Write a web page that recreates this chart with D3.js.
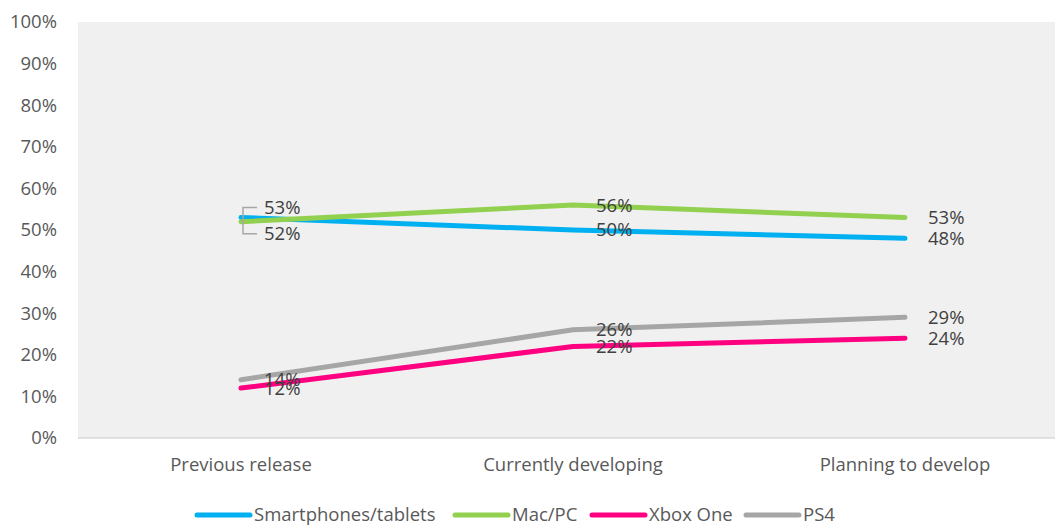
<!DOCTYPE html>
<html>
<head>
<meta charset="utf-8">
<script src="https://cdn.jsdelivr.net/npm/d3@7"></script>
<style>
  body { margin: 0; background: #fff; }
  svg text { font-family: "Open Sans", "Noto Sans", sans-serif; }
</style>
</head>
<body>
<svg id="chart" width="1055" height="525"></svg>
<script>
var categories = ['Previous release', 'Currently developing', 'Planning to develop'];
var seriesNames = ['Smartphones/tablets', 'Mac/PC', 'Xbox One', 'PS4'];
var smartphones = [53, 50, 48];
var macPc = [52, 56, 53];
var xboxOne = [12, 22, 24];
var ps4 = [14, 26, 29];
var yTicks = [0, 10, 20, 30, 40, 50, 60, 70, 80, 90, 100];
var colors = ['#00b0f0', '#92d050', '#ff0080', '#a6a6a6'];

var series = [smartphones, macPc, xboxOne, ps4].map(function(v, i) {
  return { name: seriesNames[i], values: v, color: colors[i] };
});

var svg = d3.select('#chart');
var plotLeft = 78, plotTop = 22, plotBottom = 438, plotRight = 1071;
var fontSize = '18.5px';

var x = d3.scaleBand().domain(categories).range([75, plotRight]);
var y = d3.scaleLinear().domain([0, 100]).range([plotBottom, plotTop]);

// plot background
svg.append('rect')
  .attr('x', plotLeft).attr('y', plotTop)
  .attr('width', plotRight - plotLeft).attr('height', plotBottom - plotTop)
  .attr('fill', '#f0f0f0');

// y axis labels
var yAxis = d3.axisLeft(y).tickValues(yTicks).tickSize(0).tickPadding(21)
  .tickFormat(function(d) { return d + '%'; });
svg.append('g').attr('transform', 'translate(' + plotLeft + ',0)').call(yAxis)
  .call(function(g) { g.select('.domain').remove(); })
  .selectAll('text')
  .attr('fill', '#595959').style('font-size', fontSize)
  .style('font-family', '"Open Sans", sans-serif');

// x axis
var xAxis = d3.axisBottom(x).tickSize(0).tickPadding(20);
var gx = svg.append('g').attr('transform', 'translate(0,' + plotBottom + ')').call(xAxis);
gx.select('.domain').attr('stroke', '#d9d9d9').attr('stroke-width', 1.5)
  .attr('d', 'M' + plotLeft + ',0H' + plotRight);
gx.selectAll('text').attr('fill', '#595959').style('font-size', fontSize)
  .style('font-family', '"Open Sans", sans-serif');

var cx = function(i) { return x(categories[i]) + x.bandwidth() / 2; };

var line = d3.line()
  .x(function(d, i) { return cx(i); })
  .y(function(d) { return y(d); });

svg.append('g').selectAll('path').data(series).join('path')
  .attr('d', function(s) { return line(s.values); })
  .attr('fill', 'none')
  .attr('stroke', function(s) { return s.color; })
  .attr('stroke-width', 5)
  .attr('stroke-linecap', 'round')
  .attr('stroke-linejoin', 'round');

// data labels
var labels = [];
series.forEach(function(s, si) {
  s.values.forEach(function(v, i) {
    var dy = 0;
    if (i === 0 && si === 0) dy = -10;
    if (i === 0 && si === 1) dy = 12;
    labels.push({ v: v, x: cx(i) + 23, y: y(v) + dy });
  });
});
svg.append('g').selectAll('text').data(labels).join('text')
  .attr('x', function(d) { return d.x; })
  .attr('y', function(d) { return d.y; })
  .attr('dy', '0.35em')
  .attr('fill', '#404040')
  .style('font-size', fontSize)
  .text(function(d) { return d.v + '%'; });

// leader bracket for the crowded first point
var bx = cx(0) + 2;
var by1 = y(smartphones[0]) - 10, by2 = y(macPc[0]) + 12;
svg.append('path')
  .attr('d', 'M' + (bx + 14) + ',' + by1 + 'H' + bx + 'V' + by2 + 'H' + (bx + 14))
  .attr('fill', 'none').attr('stroke', '#a6a6a6').attr('stroke-width', 1.5);

// legend
var legendX = [197, 455, 592, 746];
var lg = svg.append('g').selectAll('g').data(series).join('g')
  .attr('transform', function(d, i) { return 'translate(' + legendX[i] + ',515)'; });
lg.append('line').attr('x1', 0).attr('x2', 53)
  .attr('stroke', function(d) { return d.color; })
  .attr('stroke-width', 5).attr('stroke-linecap', 'round');
lg.append('text').attr('x', 57).attr('dy', '0.35em')
  .attr('fill', '#595959').style('font-size', fontSize)
  .text(function(d) { return d.name; });
</script>
</body>
</html>
